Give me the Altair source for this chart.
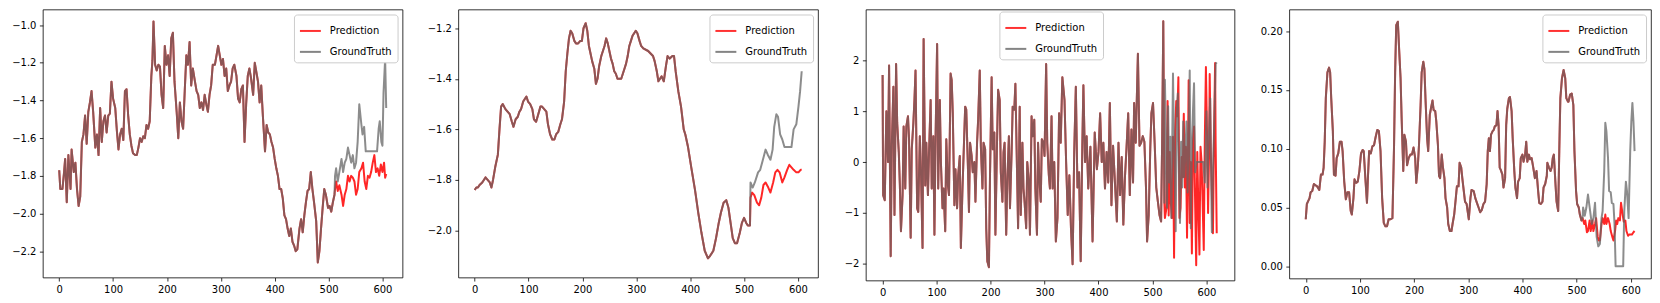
import altair as alt
import pandas as pd

SERIES = ["Prediction", "GroundTruth"]
COLORS = ["#ff0000", "#666666"]
X_TICKS = [0, 100, 200, 300, 400, 500, 600]

# ---------------- Panel 1 ----------------
p1_hist_t = [0, 2, 6, 9, 11, 14, 17, 21, 23, 27, 30, 33, 36, 39, 42, 45, 48, 51, 54, 57, 60, 63, 67, 70, 73, 76, 79, 82, 85, 88,
             91, 94, 97, 100, 104, 107, 110, 113, 116, 119, 122, 125, 128, 131, 134, 137, 141, 144, 147, 150, 153, 156, 159, 162,
             165, 168, 171, 173, 175, 178, 181, 184, 187, 190, 193, 196, 199, 202, 205, 208, 211, 214, 218, 221, 224, 227, 230,
             233, 236, 239, 242, 245, 248, 252, 255, 258, 261, 264, 267, 270, 273, 276, 279, 282, 285, 289, 292, 295, 298, 301,
             304, 307, 310, 313, 316, 319, 322, 325, 329, 332, 335, 338, 341, 344, 347, 350, 353, 356, 360, 363, 366, 369, 372,
             375, 378, 382, 385, 388, 391, 394, 397, 400, 403, 406, 409, 412, 415, 418, 421, 424, 427, 430, 433, 436, 439, 442,
             446, 449, 452, 455, 458, 461, 464, 467, 470, 473, 477, 480, 483, 486, 489, 492, 495, 499, 502, 505, 508, 511]
p1_hist_v = [-1.77, -1.87, -1.87, -1.78, -1.71, -1.94, -1.69, -1.87, -1.66, -1.78, -1.73, -1.87, -1.96, -1.91, -1.62, -1.58,
             -1.48, -1.63, -1.46, -1.41, -1.35, -1.46, -1.65, -1.58, -1.69, -1.44, -1.62, -1.51, -1.48, -1.57, -1.48, -1.47,
             -1.30, -1.39, -1.44, -1.56, -1.66, -1.58, -1.55, -1.61, -1.35, -1.34, -1.48, -1.58, -1.64, -1.68, -1.69, -1.69,
             -1.65, -1.60, -1.62, -1.59, -1.60, -1.53, -1.55, -1.51, -1.27, -1.19, -0.98, -1.21, -1.24, -1.21, -1.22, -1.37,
             -1.44, -1.11, -1.21, -1.16, -1.27, -1.07, -1.04, -1.30, -1.46, -1.60, -1.41, -1.51, -1.55, -1.35, -1.16, -1.21,
             -1.09, -1.32, -1.23, -1.30, -1.35, -1.37, -1.44, -1.41, -1.45, -1.37, -1.42, -1.46, -1.37, -1.32, -1.21, -1.21,
             -1.16, -1.11, -1.16, -1.21, -1.18, -1.27, -1.23, -1.35, -1.32, -1.30, -1.23, -1.21, -1.27, -1.39, -1.41, -1.34,
             -1.32, -1.62, -1.42, -1.27, -1.23, -1.28, -1.37, -1.20, -1.25, -1.30, -1.41, -1.32, -1.48, -1.67, -1.53, -1.57,
             -1.58, -1.62, -1.65, -1.71, -1.76, -1.80, -1.87, -1.87, -1.92, -2.01, -2.03, -2.08, -2.12, -2.08, -2.15, -2.17,
             -2.20, -2.19, -2.08, -2.03, -2.10, -2.01, -1.94, -1.88, -1.87, -1.78, -1.87, -1.94, -2.04, -2.26, -2.20, -2.08,
             -1.97, -1.87, -1.90, -1.97, -1.96, -1.99, -1.94, -1.90]
p1_pred_t = [512, 514, 517, 520, 524, 527, 530, 533, 536, 539, 542, 545, 548, 551, 554, 557, 561, 564, 567, 570, 573, 576,
             579, 582, 585, 588, 591, 594, 597, 600, 603, 605, 607]
p1_pred_v = [-1.87, -1.83, -1.88, -1.85, -1.90, -1.96, -1.90, -1.87, -1.80, -1.83, -1.80, -1.81, -1.83, -1.90, -1.87, -1.78,
             -1.76, -1.73, -1.83, -1.87, -1.80, -1.81, -1.78, -1.73, -1.69, -1.78, -1.76, -1.80, -1.74, -1.78, -1.73, -1.81,
             -1.79]
p1_gt_t = [512, 514, 517, 520, 524, 527, 530, 533, 536, 539, 542, 545, 548, 551, 554, 557, 561, 563, 566, 569, 590, 593,
           595, 598, 600, 602, 605, 607]
p1_gt_v = [-1.80, -1.76, -1.83, -1.78, -1.71, -1.78, -1.73, -1.71, -1.65, -1.69, -1.73, -1.69, -1.76, -1.73, -1.62, -1.42,
           -1.53, -1.58, -1.54, -1.67, -1.67, -1.55, -1.51, -1.62, -1.64, -1.36, -1.18, -1.44]

# ---------------- Panel 2 ----------------
p2_hist_t = [0, 3, 6, 9, 14, 20, 24, 28, 31, 34, 38, 43, 46, 49, 52, 57, 61, 65, 69, 72, 76, 80, 83, 86, 90, 93, 96, 99,
             103, 107, 110, 114, 118, 122, 125, 129, 133, 136, 140, 144, 148, 151, 155, 159, 162, 166, 169, 172, 175, 178,
             181, 185, 188, 192, 196, 199, 202, 206, 209, 212, 215, 218, 222, 225, 228, 231, 235, 238, 241, 244, 247, 250,
             253, 256, 259, 262, 265, 268, 272, 275, 278, 281, 284, 287, 290, 293, 296, 299, 302, 306, 309, 313, 322, 331,
             334, 338, 341, 344, 347, 351, 355, 358, 362, 367, 370, 373, 378, 383, 388, 391, 396, 402, 409, 415, 421, 427,
             433, 437, 443, 448, 453, 457, 462, 467, 471, 475, 479, 483, 487, 492, 496, 500, 504, 507, 511]
p2_hist_v = [-1.84, -1.83, -1.83, -1.82, -1.81, -1.79, -1.80, -1.81, -1.83, -1.80, -1.75, -1.70, -1.60, -1.51, -1.50, -1.52,
             -1.53, -1.54, -1.57, -1.59, -1.56, -1.55, -1.53, -1.52, -1.49, -1.48, -1.47, -1.49, -1.50, -1.52, -1.56, -1.57,
             -1.54, -1.51, -1.51, -1.52, -1.53, -1.58, -1.62, -1.64, -1.64, -1.62, -1.61, -1.58, -1.56, -1.49, -1.37, -1.30,
             -1.24, -1.21, -1.22, -1.25, -1.26, -1.26, -1.25, -1.25, -1.20, -1.18, -1.21, -1.27, -1.30, -1.33, -1.36, -1.42,
             -1.40, -1.35, -1.31, -1.29, -1.27, -1.24, -1.26, -1.29, -1.32, -1.34, -1.37, -1.38, -1.40, -1.40, -1.40, -1.38,
             -1.36, -1.34, -1.31, -1.27, -1.25, -1.23, -1.22, -1.21, -1.22, -1.25, -1.27, -1.28, -1.29, -1.31, -1.33, -1.37,
             -1.41, -1.40, -1.39, -1.41, -1.35, -1.31, -1.32, -1.31, -1.31, -1.37, -1.45, -1.51, -1.60, -1.62, -1.67, -1.75,
             -1.84, -1.93, -2.01, -2.08, -2.11, -2.10, -2.08, -2.03, -1.97, -1.93, -1.89, -1.88, -1.91, -1.97, -2.03, -2.05,
             -2.05, -2.01, -1.97, -1.95, -1.97, -1.98, -1.98]
p2_pred_t = [512, 515, 519, 524, 528, 532, 536, 540, 545, 549, 554, 558, 562, 566, 571, 575, 580, 584, 588, 592, 597, 601,
             605, 607]
p2_pred_v = [-1.87, -1.85, -1.86, -1.89, -1.90, -1.87, -1.82, -1.81, -1.83, -1.85, -1.81, -1.77, -1.76, -1.77, -1.81, -1.79,
             -1.76, -1.74, -1.75, -1.76, -1.77, -1.77, -1.76, -1.76]
p2_gt_t = [512, 516, 520, 526, 530, 535, 540, 544, 549, 553, 556, 560, 563, 567, 571, 575, 588, 592, 597, 601, 604, 607]
p2_gt_v = [-1.81, -1.83, -1.81, -1.77, -1.76, -1.72, -1.68, -1.70, -1.72, -1.68, -1.59, -1.54, -1.55, -1.62, -1.64, -1.67,
           -1.67, -1.60, -1.58, -1.51, -1.45, -1.37]

# ---------------- Panel 3 ----------------
p3_hist_t = [0, 1, 4, 7, 10, 12, 15, 17, 20, 22, 25, 27, 30, 32, 34, 37, 39, 42, 44, 47, 49, 52, 54, 57, 59, 61, 64, 66, 69,
             71, 74, 76, 79, 81, 84, 86, 89, 91, 94, 96, 98, 101, 103, 106, 108, 111, 113, 116, 118, 121, 123, 126, 128, 130,
             133, 135, 138, 140, 143, 145, 148, 150, 153, 155, 158, 160, 162, 165, 167, 170, 172, 175, 177, 180, 182, 185,
             187, 190, 192, 194, 197, 199, 202, 204, 207, 209, 212, 214, 217, 219, 222, 224, 226, 229, 231, 234, 236, 239,
             241, 244, 246, 249, 251, 254, 256, 259, 261, 263, 266, 268, 271, 273, 276, 278, 281, 283, 286, 288, 290, 293,
             295, 298, 300, 303, 305, 308, 310, 313, 315, 318, 321, 324, 327, 330, 333, 337, 340, 343, 346, 349, 352, 355,
             358, 361, 364, 367, 370, 372, 375, 378, 381, 385, 389, 393, 397, 400, 403, 406, 409, 412, 415, 418, 421, 424,
             427, 430, 434, 437, 440, 443, 446, 449, 452, 455, 458, 461, 464, 466, 469, 473, 476, 479, 482, 485, 488, 490,
             493, 496, 498, 501, 504, 507, 510, 513, 516, 518, 520, 522]
p3_hist_v = [1.71, -0.65, -0.75, 1.00, 0.0, 1.90, -1.85, 0.32, 1.48, -1.04, 1.93, 0.77, 0.19, -0.46, -1.36, -0.65, 0.70,
             -0.52, 0.70, 0.90, 0.45, -1.49, 0.25, 0.77, 1.22, 1.80, -0.91, -0.98, 0.51, -0.14, -1.69, 2.42, -0.46, 0.38,
             -0.65, 0.19, 1.22, -0.52, 0.51, -1.43, 0.38, 2.32, -0.52, 1.22, 0.0, -0.91, -0.52, -1.36, 0.45, -0.46, -0.65,
             1.74, 1.61, 0.96, -0.85, -0.14, -0.91, -0.26, 0.12, -1.69, -0.52, 0.12, 1.09, 1.03, -0.07, -0.98, 0.38, 0.12,
             -0.20, 0.0, -0.78, 0.38, 0.83, 1.80, 0.32, -0.52, 0.38, 0.25, -1.30, -1.95, -2.07, -0.26, 1.67, 0.25, 0.58,
             -1.43, 0.38, 1.42, 1.22, -0.20, -0.78, 0.19, 0.38, -1.43, -0.39, 0.51, -0.91, 0.19, 1.09, 1.03, 1.54, -0.14,
             -1.30, 1.09, -1.04, 0.38, -0.52, -0.78, -1.30, 0.0, -0.39, -1.43, 0.90, 0.51, 0.83, -0.52, -1.43, 0.38, -0.26,
             -0.78, 0.45, 0.38, 0.12, 1.93, 0.38, -0.26, -0.52, 0.90, -0.52, 0.0, -1.56, -1.10, 0.96, 0.38, 1.67, 1.22, 0.0,
             -1.04, -0.26, -1.30, -2.01, 0.20, 1.48, -0.50, -0.20, -1.95, 0.30, 1.51, 0.0, 0.51, -0.52, 0.30, -1.56, 0.58,
             -0.14, 0.20, 0.96, 0.0, 0.38, -0.52, 0.20, -0.40, 1.16, -0.85, 0.32, -0.30, -1.17, 0.38, -0.65, 0.10, -1.23,
             -0.30, 0.30, 0.96, -0.65, 0.64, -0.40, 1.16, 0.38, 2.13, 0.32, 0.38, 0.51, 0.40, -0.50, -1.56, -1.04, 0.30,
             0.96, 1.16, 0.38, -0.50, -0.78, -1.04, -1.17, 0.50, 2.77, -0.80]
p3_pred_t = [523, 526, 528, 530, 532, 534, 536, 538, 540, 542, 544, 546, 548, 550, 552, 554, 556, 558, 560, 562, 564, 566,
             567, 569, 571, 573, 575, 577, 579, 581, 583, 585, 587, 589, 591, 593, 595, 597, 599, 601, 603, 605, 606, 608,
             610, 612, 614, 616, 617, 619]
p3_pred_v = [-1.10, -0.90, 1.20, -1.05, 0.20, -0.80, -1.10, 0.50, -1.88, 0.60, 1.20, 0.90, 1.67, -1.10, -0.90, 0.10, -0.30,
             0.95, -0.50, 0.30, -1.49, 0.40, 1.61, -1.20, 0.0, -1.80, 0.40, 0.70, -0.80, -2.03, 0.20, -0.90, -1.82, 0.30,
             0.0, -0.85, -1.73, 0.50, 1.87, 0.60, -1.00, 0.30, 1.73, 0.20, -0.60, -1.40, 0.50, 1.95, 0.40, -1.40]
p3_gt_t = [523, 525, 527, 529, 531, 533, 535, 538, 540, 543, 545, 547, 549, 551, 553, 555, 557, 559, 561, 563, 565, 567, 569,
           571, 573, 575, 577, 579, 582, 594, 597, 600, 602, 604, 607, 610, 612, 614, 617, 619]
p3_gt_v = [1.62, 0.40, -0.90, 1.10, -0.40, 0.50, -1.10, 1.74, 0.30, -1.36, 1.00, 1.35, -0.20, -1.20, 0.40, -0.50, 0.80, -0.30,
           0.20, 0.80, -0.60, 0.50, 1.80, -1.30, 0.30, 1.00, 1.55, -0.20, 0.0, 0.0, -0.40, 1.00, -0.50, 0.40, 1.25, -1.38,
           -0.20, 0.60, 1.93, 1.96]

# ---------------- Panel 4 ----------------
p4_hist_t = [0, 2, 4, 7, 9, 12, 15, 18, 21, 25, 28, 31, 33, 35, 37, 40, 43, 45, 47, 50, 52, 55, 57, 60, 63, 66, 68, 71, 74,
             77, 80, 83, 85, 88, 90, 93, 96, 99, 102, 105, 107, 110, 113, 115, 117, 120, 123, 126, 129, 132, 135, 138, 141,
             144, 147, 150, 153, 156, 160, 163, 165, 167, 170, 172, 175, 177, 180, 182, 185, 187, 190, 193, 196, 199, 202,
             204, 207, 209, 212, 214, 217, 219, 221, 224, 226, 229, 231, 234, 236, 239, 241, 244, 246, 248, 251, 253, 256,
             258, 261, 263, 266, 269, 271, 274, 277, 279, 282, 284, 287, 289, 291, 294, 297, 301, 304, 306, 310, 313, 316,
             319, 322, 325, 328, 331, 334, 336, 338, 340, 342, 345, 347, 349, 352, 354, 356, 358, 360, 363, 365, 368, 370,
             372, 375, 377, 380, 382, 385, 387, 390, 392, 395, 397, 400, 402, 405, 407, 409, 412, 414, 417, 420, 423, 426,
             429, 431, 434, 437, 439, 442, 445, 446, 449, 452, 454, 456, 458, 461, 463, 466, 468, 470, 473, 476, 479, 481,
             484, 485, 488, 491, 494, 496, 499, 501, 504, 506, 509, 511]
p4_hist_v = [0.040, 0.053, 0.055, 0.058, 0.063, 0.064, 0.070, 0.069, 0.068, 0.065, 0.078, 0.078, 0.084, 0.106, 0.143,
             0.165, 0.169, 0.165, 0.143, 0.115, 0.078, 0.077, 0.092, 0.096, 0.106, 0.106, 0.098, 0.072, 0.057, 0.063,
             0.063, 0.047, 0.044, 0.058, 0.074, 0.071, 0.072, 0.081, 0.096, 0.099, 0.098, 0.075, 0.054, 0.078, 0.098,
             0.096, 0.102, 0.103, 0.110, 0.116, 0.115, 0.098, 0.058, 0.037, 0.034, 0.034, 0.040, 0.040, 0.041, 0.103,
             0.165, 0.205, 0.208, 0.188, 0.160, 0.126, 0.081, 0.112, 0.106, 0.086, 0.092, 0.095, 0.095, 0.101, 0.092,
             0.071, 0.086, 0.103, 0.137, 0.165, 0.174, 0.168, 0.143, 0.109, 0.098, 0.129, 0.134, 0.141, 0.133, 0.132,
             0.123, 0.103, 0.077, 0.075, 0.095, 0.085, 0.075, 0.058, 0.050, 0.036, 0.030, 0.030, 0.036, 0.044, 0.058,
             0.068, 0.068, 0.088, 0.084, 0.075, 0.067, 0.055, 0.053, 0.040, 0.058, 0.065, 0.064, 0.058, 0.054, 0.050,
             0.046, 0.048, 0.053, 0.055, 0.070, 0.098, 0.109, 0.098, 0.112, 0.115, 0.116, 0.119, 0.120, 0.132, 0.120,
             0.084, 0.082, 0.078, 0.067, 0.075, 0.120, 0.134, 0.143, 0.144, 0.132, 0.109, 0.081, 0.067, 0.058, 0.072,
             0.075, 0.092, 0.095, 0.089, 0.095, 0.106, 0.089, 0.095, 0.091, 0.092, 0.084, 0.075, 0.081, 0.064, 0.054,
             0.053, 0.055, 0.067, 0.070, 0.077, 0.088, 0.084, 0.081, 0.084, 0.092, 0.095, 0.070, 0.055, 0.047, 0.098,
             0.143, 0.160, 0.167, 0.160, 0.143, 0.140, 0.140, 0.146, 0.147, 0.137, 0.098, 0.064, 0.053, 0.050, 0.044,
             0.039, 0.041]
p4_pred_t = [514, 516, 519, 521, 524, 526, 529, 531, 534, 536, 539, 541, 543, 546, 548, 551, 553, 555, 558, 561, 563, 566,
             568, 571, 573, 575, 577, 580, 582, 585, 587, 590, 592, 595, 597, 600, 602, 605, 607]
p4_pred_v = [0.036, 0.039, 0.029, 0.030, 0.039, 0.030, 0.039, 0.030, 0.036, 0.041, 0.025, 0.022, 0.022, 0.036, 0.041, 0.036,
             0.044, 0.036, 0.041, 0.036, 0.030, 0.025, 0.022, 0.030, 0.039, 0.036, 0.041, 0.039, 0.054, 0.044, 0.038, 0.039,
             0.030, 0.026, 0.027, 0.027, 0.027, 0.029, 0.030]
p4_gt_t = [512, 515, 518, 521, 525, 528, 531, 534, 537, 540, 543, 546, 548, 551, 553, 555, 558, 560, 563, 565, 568, 570,
           572, 586, 588, 591, 593, 596, 599, 601, 603, 605, 607]
p4_gt_v = [0.050, 0.043, 0.050, 0.061, 0.047, 0.036, 0.041, 0.054, 0.025, 0.017, 0.019, 0.041, 0.047, 0.081, 0.122, 0.115,
           0.092, 0.064, 0.063, 0.054, 0.053, 0.036, 0.0, 0.0, 0.047, 0.072, 0.064, 0.041, 0.098, 0.123, 0.139, 0.123,
           0.098]


def legend(**pos):
    return alt.Legend(title=None, symbolType="stroke", symbolSize=441, symbolStrokeWidth=2, symbolOpacity=0.8,
                      labelFont="DejaVu Sans", labelFontSize=10, labelColor="black", labelOffset=8,
                      rowPadding=4, padding=5, strokeColor="#cccccc", fillColor="white",
                      cornerRadius=3, **pos)


def panel(hist_t, hist_v, pred_t, pred_v, gt_t, gt_v, x_dom, y_dom, y_ticks, y_fmt, w, h, extent, leg):
    pred = pd.DataFrame({"t": hist_t + pred_t, "v": hist_v + pred_v, "series": "Prediction"})
    gt = pd.DataFrame({"t": hist_t + gt_t, "v": hist_v + gt_v, "series": "GroundTruth"})
    x = alt.X("t:Q", scale=alt.Scale(domain=x_dom, nice=False, zero=False),
              axis=alt.Axis(values=X_TICKS, format="d", title=None, labelFlush=False))
    y = alt.Y("v:Q", scale=alt.Scale(domain=y_dom, nice=False, zero=False),
              axis=alt.Axis(values=y_ticks, format=y_fmt, title=None, minExtent=extent, maxExtent=extent))
    color = alt.Color("series:N", scale=alt.Scale(domain=SERIES, range=COLORS), legend=leg)
    l_pred = alt.Chart(pred).mark_line(strokeWidth=2, opacity=0.85, strokeJoin="round").encode(x=x, y=y, color=color)
    l_gt = alt.Chart(gt).mark_line(strokeWidth=2, opacity=0.75, strokeJoin="round").encode(x=x, y=y, color=color)
    return alt.layer(l_pred, l_gt).properties(width=w, height=h)


c1 = panel(p1_hist_t, p1_hist_v, p1_pred_t, p1_pred_v, p1_gt_t, p1_gt_v,
           [-30.35, 637.35], [-2.34, -0.917], [-2.2, -2.0, -1.8, -1.6, -1.4, -1.2, -1.0], ".1f",
           361, 269, 34, legend(orient="top-right", offset=5))
c2 = panel(p2_hist_t, p2_hist_v, p2_pred_t, p2_pred_v, p2_gt_t, p2_gt_v,
           [-30.35, 637.35], [-2.186, -1.126], [-2.0, -1.8, -1.6, -1.4, -1.2], ".1f",
           361, 269, 54, legend(orient="top-right", offset=5))
c3 = panel(p3_hist_t, p3_hist_v, p3_pred_t, p3_pred_v, p3_gt_t, p3_gt_v,
           [-31.0, 652.0], [-2.33, 3.0], [-2, -1, 0, 1, 2], "d",
           370, 272, 46, legend(orient="none", legendX=134, legendY=2))
c4 = panel(p4_hist_t, p4_hist_v, p4_pred_t, p4_pred_v, p4_gt_t, p4_gt_v,
           [-30.35, 637.35], [-0.0104, 0.2184], [0.0, 0.05, 0.10, 0.15, 0.20], ".2f",
           363, 270, 53, legend(orient="top-right", offset=5))

chart = (
    alt.hconcat(c1, c2, c3, c4, spacing=0)
    .resolve_scale(x="independent", y="independent", color="independent")
    .resolve_legend(color="independent")
    .properties(padding={"left": 0, "top": 0, "right": 0, "bottom": 0})
    .configure_view(stroke="black", strokeWidth=0.8)
    .configure_axis(grid=False, domain=False, tickColor="black", tickWidth=0.8, tickSize=3.5,
                    labelFont="DejaVu Sans", labelFontSize=10, labelColor="black", labelPadding=3.5)
)

chart.save("out.html", embed_options={"renderer": "svg", "actions": False})
